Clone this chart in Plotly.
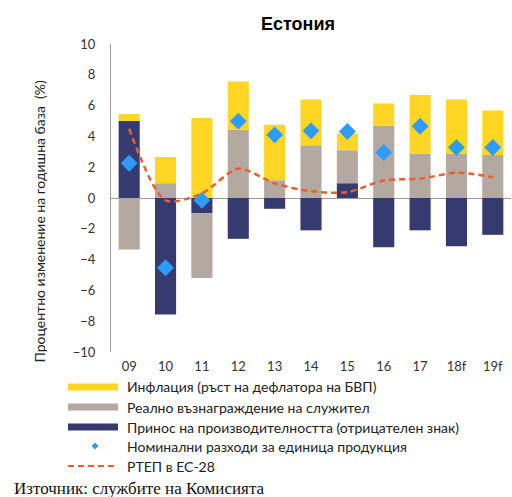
import plotly.graph_objects as go

# data
years = ["09", "10", "11", "12", "13", "14", "15", "16", "17", "18f", "19f"]
productivity = [5.0, -7.56, -1.0, -2.65, -0.7, -2.1, 0.96, -3.19, -2.1, -3.13, -2.39]
real_comp = [-3.35, 0.96, -4.2, 4.43, 1.16, 3.43, 2.14, 4.69, 2.89, 2.89, 2.8]
inflation = [0.45, 1.7, 5.2, 3.13, 3.6, 2.97, 1.09, 1.45, 3.8, 3.5, 2.88]
nominal_ulc = [2.26, -4.53, -0.15, 4.99, 4.1, 4.36, 4.32, 2.95, 4.66, 3.28, 3.28]
reer_eu28 = [4.5, -0.15, 0.3, 1.9, 0.95, 0.44, 0.38, 1.14, 1.25, 1.64, 1.35]

YELLOW = "#FFD624"
GREY = "#B3A9A0"
NAVY = "#353A6F"
BLUE = "#2E9BFF"
ORANGE = "#E8602C"
FONT = "Lato, Open Sans, sans-serif"

W, H = 512, 497
L, R, T, B = 111, 1, 44, 145
PW, PH = W - L - R, H - T - B

def px(x):  # pixel x -> paper x
    return (x - L) / PW

def py(y):  # pixel y -> paper y
    return (H - B - y) / PH

fig = go.Figure()

fig.add_trace(go.Bar(x=years, y=productivity, marker_color=NAVY, marker_line_width=0,
                     name="Принос на производителността (отрицателен знак)"))
fig.add_trace(go.Bar(x=years, y=real_comp, marker_color=GREY, marker_line_width=0,
                     name="Реално възнаграждение на служител"))
fig.add_trace(go.Bar(x=years, y=inflation, marker_color=YELLOW, marker_line_width=0,
                     name="Инфлация (ръст на дефлатора на БВП)"))
fig.add_trace(go.Scatter(x=years, y=reer_eu28, mode="lines", name="РТЕП в ЕС-28",
                         line=dict(color=ORANGE, width=2.5, dash="6px,4px", shape="spline", smoothing=0.8)))
fig.add_trace(go.Scatter(x=years, y=nominal_ulc, mode="markers", name="Номинални разходи за единица продукция",
                         marker=dict(symbol="diamond", size=13, color=BLUE)))

fig.update_layout(
    width=W, height=H,
    margin=dict(l=L, r=R, t=T, b=B),
    barmode="relative", bargap=0.42,
    plot_bgcolor="white", paper_bgcolor="white",
    showlegend=False,
    font=dict(family=FONT, size=13, color="#333"),
    title=dict(text="<b>Естония</b>", x=298 / W, xanchor="center", y=1 - 24 / H, yanchor="middle",
               font=dict(family="Liberation Sans, Arial", size=18, color="black")),
)

fig.update_xaxes(showline=False, showgrid=False, ticks="", range=[-0.5, 10.5],
                 ticklabelstandoff=5, tickfont=dict(size=13, color="#333"))
fig.update_yaxes(range=[-10, 10], dtick=2, showgrid=False, showline=True, linecolor="#999", linewidth=1,
                 zeroline=True, zerolinecolor="#999", zerolinewidth=1,
                 ticklabelstandoff=12, tickfont=dict(size=13, color="#333"))

# y axis title
fig.add_annotation(text="Процентно изменение на годишна база  (%)", textangle=-90,
                   xref="paper", yref="paper", x=px(28), y=py(221), showarrow=False,
                   font=dict(size=14, color="#222"))

# legend drawn by hand below the plot
legend_rows = [
    ("Инфлация (ръст на дефлатора на БВП)", "bar", YELLOW),
    ("Реално възнаграждение на служител", "bar", GREY),
    ("Принос на производителността (отрицателен знак)", "bar", NAVY),
    ("Номинални разходи за единица продукция", "diamond", BLUE),
    ("РТЕП в ЕС-28", "dash", ORANGE),
]
row_y = [387, 407, 427, 446, 466]
for (label, kind, col), yy in zip(legend_rows, row_y):
    if kind == "bar":
        fig.add_shape(type="rect", xref="paper", yref="paper", x0=px(68), x1=px(118),
                      y0=py(yy + 3.5), y1=py(yy - 3.5), fillcolor=col, line_width=0)
    elif kind == "diamond":
        cx, cy, r = 95, yy, 3.5
        fig.add_shape(type="path", xref="paper", yref="paper", fillcolor=col, line_width=0,
                      path=f"M {px(cx - r)} {py(cy)} L {px(cx)} {py(cy - r)} L {px(cx + r)} {py(cy)} L {px(cx)} {py(cy + r)} Z")
    else:
        fig.add_shape(type="line", xref="paper", yref="paper", x0=px(68), x1=px(115),
                      y0=py(yy), y1=py(yy), line=dict(color=col, width=2, dash="6px,4px"))
    fig.add_annotation(text=label, xref="paper", yref="paper", x=px(125), y=py(yy),
                       xanchor="left", yanchor="middle", showarrow=False,
                       font=dict(size=14, color="#222"))

fig.add_annotation(text="Източник: службите на Комисията", xref="paper", yref="paper",
                   x=px(12), y=py(488), xanchor="left", yanchor="middle", showarrow=False,
                   font=dict(family="Liberation Serif, Times New Roman, serif", size=17, color="#111"))

# drop the browser's default body margin so the figure sits at the page corner
fig.write_html("out.html", config={"displayModeBar": False},
               post_script="document.body.style.margin='0';")
